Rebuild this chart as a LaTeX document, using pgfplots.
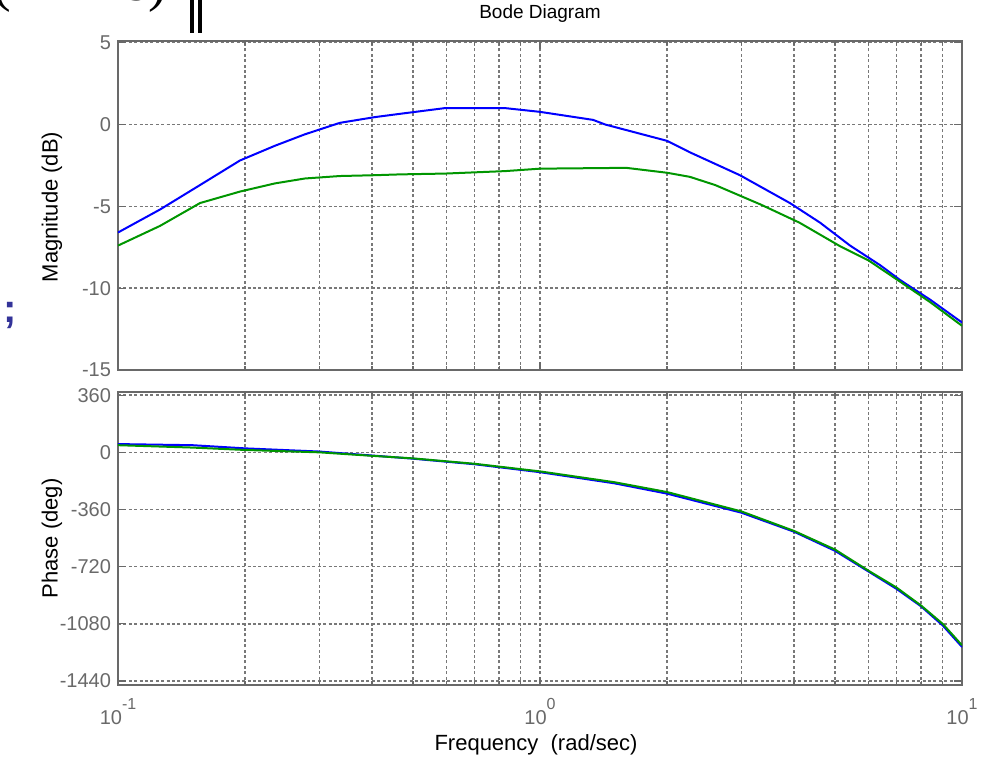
\documentclass[border=0pt]{standalone}
\usepackage{fontspec}
\setmainfont{Liberation Sans}
\newfontfamily\timesfont{Liberation Serif}
\usepackage{pgfplots}
\pgfplotsset{compat=1.18}

\definecolor{framegray}{RGB}{105,105,105}
\definecolor{gridgray}{RGB}{120,120,120}
\definecolor{mblue}{RGB}{0,0,255}
\definecolor{mgreen}{RGB}{0,150,0}
\definecolor{slideblue}{RGB}{51,51,153}

\pgfplotsset{
  /pgfplots/bode/.style={
    scale only axis, width=422pt,
    xmin=0.1, xmax=10,
    xtick={0.1,1,10},
    minor xtick={0.2,0.3,0.4,0.5,0.6,0.7,0.8,0.9,2,3,4,5,6,7,8,9},
    axis line style={framegray, line width=1.3pt},
    tick style={framegray, line width=0.6pt},
    tick align=inside, tick pos=both,
    major tick length=4pt, minor tick length=2pt,
    xmajorgrids, xminorgrids, ymajorgrids,
    grid style={gridgray, line width=0.8pt, dash pattern=on 1.5pt off 1.2pt},
    minor grid style={gridgray, line width=0.8pt, dash pattern=on 1.5pt off 1.2pt},
    ticklabel style={font=\fontsize{10}{12}\selectfont, color=framegray},
    every axis plot/.append style={line width=1pt},
  }
}

\begin{document}
\begin{tikzpicture}
\useasboundingbox (0,0) rectangle (493pt,382pt);
\clip (0,0) rectangle (493pt,382pt);

% slide leftovers around the figure
\node[anchor=base west, inner sep=0, font=\timesfont\fontsize{28}{30}\selectfont] at (-4pt,381.5pt) {(1 + 4s)};
\draw[line width=2pt] (96pt,382pt) -- (96pt,365.5pt);
\draw[line width=2pt] (100.2pt,382pt) -- (100.2pt,365.5pt);
\node[font=\bfseries\fontsize{20}{22}\selectfont, text=slideblue] at (5pt,224pt) {;};

% magnitude
\begin{axis}[xmode=log, bode,
    at={(59pt,197pt)}, anchor=south west, height=164.5pt,
    ymin=-15, ymax=5.1,
    ytick={-15,-10,-5,0,5},
    yticklabels={-15,-10,-5,0,5},
    xticklabels={}]
\addplot[mblue] coordinates {
  (0.1,-6.6) (0.1257,-5.2) (0.1565,-3.7) (0.1946,-2.2) (0.2355,-1.3)
  (0.2774,-0.6) (0.3357,0.1) (0.4064,0.45) (0.4658,0.65) (0.5955,1.0)
  (0.826,1.0) (1,0.77) (1.336,0.28) (1.426,0.0) (2.0,-1.0) (2.265,-1.7)
  (2.977,-3.1) (3.91,-4.8) (4.61,-6.0) (5.43,-7.4) (6.40,-8.6)
  (7.13,-9.5) (8.40,-10.7) (10,-12.1)
};
\addplot[mgreen] coordinates {
  (0.1,-7.4) (0.1257,-6.2) (0.1565,-4.8) (0.1946,-4.1) (0.2355,-3.6)
  (0.2774,-3.3) (0.3357,-3.15) (0.4064,-3.1) (0.4658,-3.05) (0.5955,-3.0)
  (0.826,-2.85) (1,-2.7) (1.6,-2.65) (2.0,-2.95) (2.265,-3.2) (2.6,-3.7)
  (3.34,-4.9) (4.12,-6.0) (5.15,-7.45) (6.0,-8.3) (7.13,-9.6)
  (8.40,-10.85) (10,-12.3)
};
\end{axis}

% phase
\begin{axis}[xmode=log, bode,
    at={(59pt,39.5pt)}, anchor=south west, height=146.5pt,
    ymin=-1465, ymax=380,
    ytick={-1440,-1080,-720,-360,0,360},
    yticklabels={-1440,-1080,-720,-360,0,360},
    xticklabels={10\raisebox{7.5pt}{\fontsize{8}{9}\selectfont -1},
                 10\raisebox{7.5pt}{\fontsize{8}{9}\selectfont 0},
                 10\raisebox{7.5pt}{\fontsize{8}{9}\selectfont 1}},
    xticklabel style={yshift=-3pt}]
\addplot[mblue] coordinates {
  (0.1,52) (0.15,45) (0.2,25) (0.3,5) (0.4,-20) (0.5,-40) (0.7,-75)
  (1.0,-125) (1.5,-195) (2.0,-260) (3.0,-380) (4.0,-500) (5.0,-620)
  (6.0,-750) (7.0,-860) (8.0,-970) (9.0,-1090) (10,-1225)
};
\addplot[mgreen] coordinates {
  (0.1,45) (0.15,30) (0.2,15) (0.3,0) (0.4,-22) (0.5,-38) (0.7,-72)
  (1.0,-120) (1.5,-188) (2.0,-250) (3.0,-372) (4.0,-495) (5.0,-612)
  (6.0,-745) (7.0,-852) (8.0,-965) (9.0,-1080) (10,-1215)
};
\end{axis}

\node[font=\fontsize{9.5}{11}\selectfont] at (270pt,375pt) {Bode Diagram};
\node[font=\fontsize{11}{13}\selectfont, rotate=90] at (26pt,278.5pt) {Magnitude (dB)};
\node[font=\fontsize{11}{13}\selectfont, rotate=90] at (26pt,112.75pt) {Phase (deg)};
\node[font=\fontsize{11}{13}\selectfont] at (268pt,9.5pt) {Frequency \ (rad/sec)};
\end{tikzpicture}
\end{document}
